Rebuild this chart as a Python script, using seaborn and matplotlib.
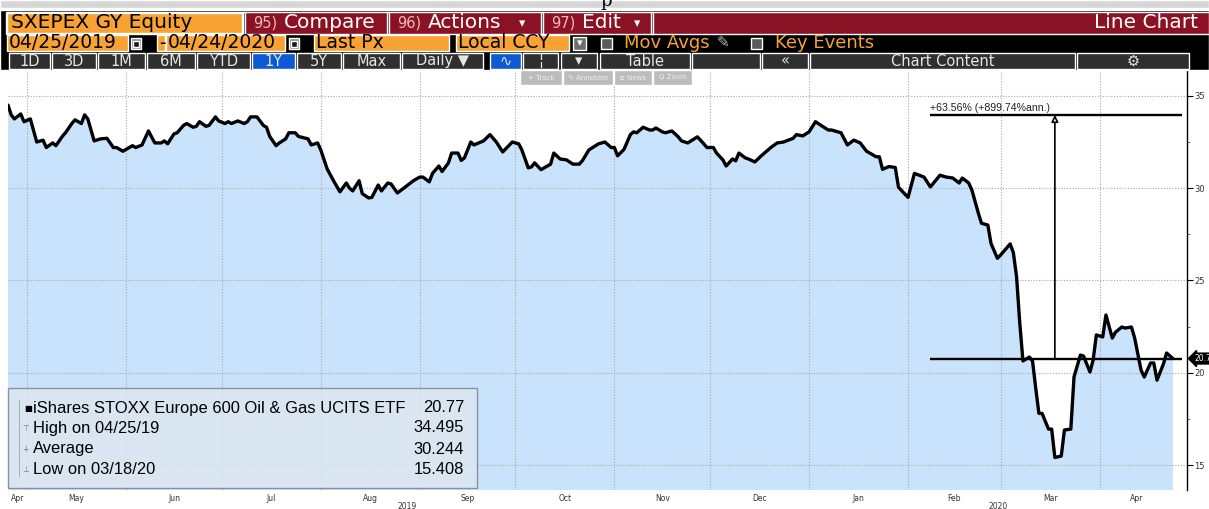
import numpy as np
import pandas as pd

import matplotlib
matplotlib.use('Agg')

import matplotlib.pyplot as plt
import matplotlib.dates as mdates
from matplotlib.patches import Rectangle
from matplotlib.ticker import MultipleLocator
import seaborn as sns

# price history (SXEPEX GY, Last Px, local ccy)
dates = [
    "2019-04-25", "2019-04-26", "2019-04-27", "2019-04-29", "2019-04-30", "2019-05-02", "2019-05-04",
    "2019-05-06", "2019-05-07", "2019-05-09", "2019-05-10", "2019-05-12", "2019-05-13", "2019-05-15",
    "2019-05-16", "2019-05-18", "2019-05-19", "2019-05-20", "2019-05-22", "2019-05-24", "2019-05-26",
    "2019-05-28", "2019-05-29", "2019-05-31", "2019-06-03", "2019-06-04", "2019-06-06", "2019-06-08",
    "2019-06-10", "2019-06-12", "2019-06-13", "2019-06-14", "2019-06-16", "2019-06-17", "2019-06-19",
    "2019-06-20", "2019-06-22", "2019-06-23", "2019-06-24", "2019-06-26", "2019-06-27", "2019-06-29",
    "2019-06-30", "2019-07-02", "2019-07-03", "2019-07-04", "2019-07-06", "2019-07-08", "2019-07-09",
    "2019-07-10", "2019-07-12", "2019-07-14", "2019-07-15", "2019-07-16", "2019-07-18", "2019-07-19",
    "2019-07-21", "2019-07-22", "2019-07-24", "2019-07-25", "2019-07-28", "2019-07-29", "2019-07-31",
    "2019-08-01", "2019-08-03", "2019-08-05", "2019-08-07", "2019-08-09", "2019-08-10", "2019-08-11",
    "2019-08-13", "2019-08-14", "2019-08-16", "2019-08-17", "2019-08-19", "2019-08-20", "2019-08-22",
    "2019-08-23", "2019-08-25", "2019-08-27", "2019-08-30", "2019-09-01", "2019-09-02", "2019-09-04",
    "2019-09-05", "2019-09-07", "2019-09-08", "2019-09-10", "2019-09-11", "2019-09-13", "2019-09-14",
    "2019-09-15", "2019-09-17", "2019-09-18", "2019-09-21", "2019-09-23", "2019-09-25", "2019-09-27",
    "2019-09-30", "2019-10-02", "2019-10-03", "2019-10-05", "2019-10-06", "2019-10-07", "2019-10-09",
    "2019-10-11", "2019-10-12", "2019-10-13", "2019-10-15", "2019-10-17", "2019-10-19", "2019-10-21",
    "2019-10-22", "2019-10-24", "2019-10-27", "2019-10-29", "2019-10-31", "2019-11-01", "2019-11-02",
    "2019-11-04", "2019-11-06", "2019-11-07", "2019-11-08", "2019-11-10", "2019-11-12", "2019-11-13",
    "2019-11-14", "2019-11-16", "2019-11-17", "2019-11-19", "2019-11-21", "2019-11-22", "2019-11-24",
    "2019-11-26", "2019-11-27", "2019-11-29", "2019-11-30", "2019-12-02", "2019-12-03", "2019-12-05",
    "2019-12-06", "2019-12-08", "2019-12-09", "2019-12-10", "2019-12-12", "2019-12-13", "2019-12-15",
    "2019-12-17", "2019-12-18", "2019-12-20", "2019-12-22", "2019-12-24", "2019-12-27", "2019-12-28",
    "2019-12-30", "2020-01-01", "2020-01-03", "2020-01-05", "2020-01-07", "2020-01-08", "2020-01-11",
    "2020-01-13", "2020-01-15", "2020-01-17", "2020-01-19", "2020-01-22", "2020-01-23", "2020-01-24",
    "2020-01-26", "2020-01-28", "2020-01-29", "2020-02-01", "2020-02-03", "2020-02-06", "2020-02-08",
    "2020-02-11", "2020-02-13", "2020-02-15", "2020-02-17", "2020-02-18", "2020-02-20", "2020-02-21",
    "2020-02-23", "2020-02-24", "2020-02-26", "2020-02-27", "2020-02-29", "2020-03-01", "2020-03-04",
    "2020-03-05", "2020-03-06", "2020-03-07", "2020-03-08", "2020-03-10", "2020-03-11", "2020-03-12",
    "2020-03-13", "2020-03-14", "2020-03-16", "2020-03-17", "2020-03-18", "2020-03-20", "2020-03-21",
    "2020-03-23", "2020-03-24", "2020-03-26", "2020-03-27", "2020-03-29", "2020-03-30", "2020-03-31",
    "2020-04-02", "2020-04-03", "2020-04-05", "2020-04-06", "2020-04-08", "2020-04-09", "2020-04-11",
    "2020-04-12", "2020-04-14", "2020-04-15", "2020-04-17", "2020-04-18", "2020-04-19", "2020-04-21",
    "2020-04-22", "2020-04-24",
]
prices = [
    34.50, 33.97, 33.75, 34.02, 33.60, 33.75, 32.50,
    32.60, 32.20, 32.45, 32.30, 32.80, 33.00, 33.50,
    33.70, 33.50, 33.97, 33.75, 32.56, 32.67, 32.70,
    32.20, 32.20, 32.00, 32.30, 32.20, 32.34, 33.10,
    32.45, 32.45, 32.56, 32.40, 32.94, 33.00, 33.40,
    33.50, 33.30, 33.35, 33.60, 33.35, 33.40, 33.86,
    33.64, 33.50, 33.60, 33.50, 33.64, 33.50, 33.60,
    33.86, 33.86, 33.40, 33.30, 32.80, 32.30, 32.45,
    32.67, 33.00, 33.00, 32.80, 32.67, 32.34, 32.45,
    32.07, 31.04, 30.40, 29.80, 30.28, 30.00, 29.85,
    30.40, 29.70, 29.47, 29.50, 30.17, 29.85, 30.28,
    30.23, 29.74, 30.00, 30.40, 30.60, 30.60, 30.34,
    30.80, 31.20, 30.90, 31.37, 31.90, 31.90, 31.50,
    31.64, 32.50, 32.34, 32.56, 32.90, 32.50, 31.96,
    32.50, 32.40, 32.07, 31.10, 31.15, 31.37, 31.00,
    31.20, 31.30, 31.90, 31.58, 31.53, 31.30, 31.30,
    31.50, 32.07, 32.40, 32.50, 32.20, 32.20, 31.75,
    32.10, 32.90, 33.05, 33.00, 33.30, 33.15, 33.15,
    33.26, 33.05, 33.00, 33.10, 32.78, 32.56, 32.45,
    32.67, 32.78, 32.40, 32.20, 32.20, 31.90, 31.53,
    31.20, 31.58, 31.48, 31.90, 31.64, 31.58, 31.42,
    31.75, 31.90, 32.20, 32.45, 32.50, 32.70, 32.90,
    32.83, 33.05, 33.60, 33.37, 33.15, 33.15, 33.00,
    32.34, 32.60, 32.45, 32.00, 31.70, 31.70, 31.02,
    31.17, 31.12, 30.05, 29.50, 30.80, 30.60, 30.07,
    30.70, 30.60, 30.55, 30.28, 30.55, 30.28, 29.90,
    28.66, 28.10, 28.00, 27.00, 26.20, 26.38, 26.98,
    26.50, 25.20, 22.70, 20.64, 20.85, 20.64, 19.17,
    17.80, 17.80, 16.95, 16.95, 15.41, 15.49, 16.90,
    16.95, 19.77, 20.96, 20.90, 20.04, 20.70, 22.05,
    21.94, 23.13, 21.88, 22.20, 22.48, 22.42, 22.48,
    21.88, 20.15, 19.77, 20.53, 20.53, 19.60, 20.47,
    21.07, 20.77,
]

ticker = "SXEPEX GY Equity"
date_from = "04/25/2019"
date_to = "04/24/2020"
legend_names = ["iShares STOXX Europe 600 Oil & Gas UCITS ETF", "High on 04/25/19", "Average", "Low on 03/18/20"]
legend_values = ["20.77", "34.495", "30.244", "15.408"]
last_px = 20.77
low_date = "2020-03-18"
change_pct = 63.56
change_ann = 899.74
y_ticks = [15, 20, 25, 30, 35]
toolbar = ["1D", "3D", "1M", "6M", "YTD", "1Y", "5Y", "Max", "Daily \u25bc"]

sns.set_style("white")
plt.rcParams['font.family'] = ['DejaVu Sans']

W, H = 1209, 509
fig = plt.figure(figsize=(W / 100, H / 100), dpi=100)


def fx(x):
    return x / W


def fy(y):
    return 1 - y / H


def rect(x0, y0, x1, y1, color, z=2, **kw):
    fig.add_artist(Rectangle((fx(x0), fy(y1)), (x1 - x0) / W, (y1 - y0) / H,
                             transform=fig.transFigure, facecolor=color, zorder=z, **kw))


def txt(x, y, s, size, color='black', ha='left', z=5, **kw):
    fig.text(fx(x), fy(y), s, fontsize=size, color=color, ha=ha, va='center', zorder=z, **kw)


# ---- chart ----
ax = fig.add_axes([fx(8), fy(490), (1187 - 8) / W, (490 - 70) / H])
df = pd.DataFrame({"date": pd.to_datetime(dates), "px": prices})
ax.fill_between(df["date"], df["px"], 0, color="#cae3fd", lw=0, zorder=1)
sns.lineplot(data=df, x="date", y="px", ax=ax, color="black", lw=2.4, zorder=3)

start = df["date"].iloc[0]
end = df["date"].iloc[-1]
xmax = end + pd.Timedelta(days=4.4)
ax.set_xlim(start, xmax)
ax.set_ylim(13.65, 36.4)

ax.set_axisbelow('line')
ax.set_yticks(y_ticks)
ax.yaxis.set_minor_locator(MultipleLocator(2.5))
ax.yaxis.tick_right()
ax.xaxis.set_major_locator(mdates.MonthLocator())
ax.xaxis.set_major_formatter(plt.NullFormatter())
ax.grid(True, which='major', color="#a8a8a8", ls=(0, (1, 1.5)), lw=0.8)

# month names centred on the visible part of each month
months = pd.date_range(start.to_period('M').to_timestamp(), end, freq='MS')
mids, names = [], []
for m in months:
    lo = max(m, start)
    hi = min(m + pd.offsets.MonthBegin(1), end)
    mids.append(mdates.date2num(lo + (hi - lo) / 2))
    names.append(m.strftime('%b'))
ax.set_xticks(mids, minor=True)
ax.set_xticklabels(names, minor=True)
ax.tick_params(axis='x', which='both', length=0, labelsize=5.5, labelcolor="#333333", pad=3)
ax.tick_params(axis='y', which='major', direction='out', length=4, width=0.8, color='black',
               labelsize=6, labelcolor="#333333", pad=1)
ax.tick_params(axis='y', which='minor', direction='out', length=2, width=0.6, color='#555555')
ax.set_xlabel("")
ax.set_ylabel("")
for s in ["left", "top", "bottom"]:
    ax.spines[s].set_visible(False)
ax.spines["right"].set_color("black")
ax.spines["right"].set_linewidth(1.0)

for yr in ["2019", "2020"]:
    lo = max(pd.Timestamp(yr + "-01-01"), start)
    hi = min(pd.Timestamp(yr + "-12-31"), xmax)
    ax.text(lo + (hi - lo) / 2, -0.04, yr, transform=ax.get_xaxis_transform(),
            ha='center', va='center', fontsize=5.5, color="#333333")

# last price tag on the right axis (cut by the window edge, as in the screenshot)
ax.text(1.006, last_px, f"{last_px:.2f}", transform=ax.get_yaxis_transform(), ha='left', va='center',
        fontsize=5.5, color='white', clip_on=False,
        bbox=dict(boxstyle='larrow,pad=0.12', fc='black', ec='black'))

# percentage change measurement
top_px = last_px * (1 + change_pct / 100)
m0 = pd.Timestamp("2020-02-08")
m1 = end + pd.Timedelta(days=2.7)
ax.hlines([last_px, top_px], m0, m1, color='black', lw=1.7, zorder=4)
ax.annotate("", xy=(pd.Timestamp(low_date), top_px), xytext=(pd.Timestamp(low_date), last_px),
            arrowprops=dict(arrowstyle='-|>', fc='white', ec='black', lw=1.2,
                            mutation_scale=10, shrinkA=0, shrinkB=0), zorder=4)
ax.text(m0, top_px + 0.1, f"+{change_pct:.2f}% (+{change_ann:.2f}%ann.)", fontsize=7.6,
        color="#222222", ha='left', va='bottom', family=['Liberation Sans'])

# legend panel
rect(8, 388, 477, 488, "#dce6f1", z=3, edgecolor="#7d8a98", lw=1.0, alpha=0.9)
fig.add_artist(plt.Line2D([fx(19), fx(19)], [fy(400), fy(476)], transform=fig.transFigure,
                          color="#9aa5b0", lw=0.6, zorder=4))
rows_y = [408, 428, 449, 470]
marks = ["\u25a0", "\u22a4", "+", "\u22a5"]
for i, (name, val, yy) in enumerate(zip(legend_names, legend_values, rows_y)):
    if i == 0:
        txt(24, yy, marks[i], 6, color='black')
    else:
        txt(22, yy, marks[i], 5.5, color='#7a7a7a')
    txt(33, yy, name, 11.9, family=['Liberation Sans'])
    txt(464, yy, val, 11.9, ha='right', family=['Liberation Sans'])

# ---- Bloomberg header ----
rect(0, 0, W, 8, "#d6d6d6")
txt(600, 1, "p", 13, family=['DejaVu Serif'])
rect(0, 10, W, 70, "black")
rect(6, 12, W, 34, "#8b1224")
rect(7, 13, 242, 33, "#f7a233")
txt(11, 23, ticker, 14.5)
for x0, num, lab, arrow in [(246, "95)", "Compare", None), (390, "96)", "Actions", 522),
                            (544, "97)", "Edit", 637)]:
    rect(x0 - 3, 12, x0 - 1, 34, "#4a0710", z=3)
    txt(x0 + 7, 23, num, 10.5, color="#f2b9b9")
    txt(x0 + 38, 23, lab, 14.5, color='white')
    if arrow:
        txt(arrow, 24, "\u25be", 9, color='white', ha='center')
rect(651, 12, 653, 34, "#4a0710", z=3)
txt(1198, 23, "Line Chart", 14.5, color='white', ha='right')

orange = "#f7a233"
for x0, x1, lab in [(7, 128, date_from), (157, 165, "-"), (166, 285, date_to),
                    (314, 449, "Last Px"), (456, 569, "Local CCY")]:
    rect(x0, 35, x1, 51, orange)
    txt(x0 + 2, 43, lab, 13.5)
for x0 in [131, 289]:
    rect(x0, 38, x0 + 10, 49, "#8a8a8a")
    rect(x0 + 2, 41, x0 + 8, 47, "#1a1a1a", z=3)
rect(573, 37, 586, 50, "#6e6e6e")
txt(579.5, 43, "\u25be", 8, color='white', ha='center')
rect(601, 38, 612, 49, "#5a5a5a")
txt(624, 43, "Mov Avgs", 13, color=orange)
txt(717, 43, "\u270e", 11, color="#bbbbbb")
rect(751, 38, 762, 49, "#5a5a5a")
txt(775, 43, "Key Events", 13, color=orange)

cells = [(8, 51), (51, 97), (97, 146), (146, 196), (196, 251), (251, 296), (296, 342), (342, 401), (401, 484)]
for (x0, x1), lab in zip(cells, toolbar):
    rect(x0 + 1, 53, x1 - 1, 69, "#0d5ad4" if lab == "1Y" else "#2f2f2f")
    txt((x0 + x1) / 2, 61, lab, 10.5, color="#e6e6e6", ha='center')
extra = [(490, 521, "\u223f", "#0d5ad4"), (523, 558, "\u00a6", "#2f2f2f"), (561, 597, "\u25be", "#2f2f2f"),
         (600, 690, "Table", "#2f2f2f"), (692, 760, "", "#2f2f2f"), (762, 808, "\u00ab", "#2f2f2f"),
         (810, 1075, "Chart Content", "#2f2f2f"), (1077, 1189, "\u2699", "#2f2f2f")]
for x0, x1, lab, col in extra:
    rect(x0, 53, x1, 69, col)
    txt((x0 + x1) / 2, 61, lab, 10.5, color="#e6e6e6", ha='center')

# little tool strip over the plot
for x0, x1, lab in [(520, 562, "+ Track"), (563, 613, "\u270e Annotate"), (614, 652, "\u2261 News"),
                    (653, 692, "Q Zoom")]:
    rect(x0, 70, x1, 85, "#bcbcbc", z=6)
    txt((x0 + x1) / 2, 77.5, lab, 5, color="#efefef", ha='center', z=7)

fig.savefig("out.png", dpi=100)
plt.close()
